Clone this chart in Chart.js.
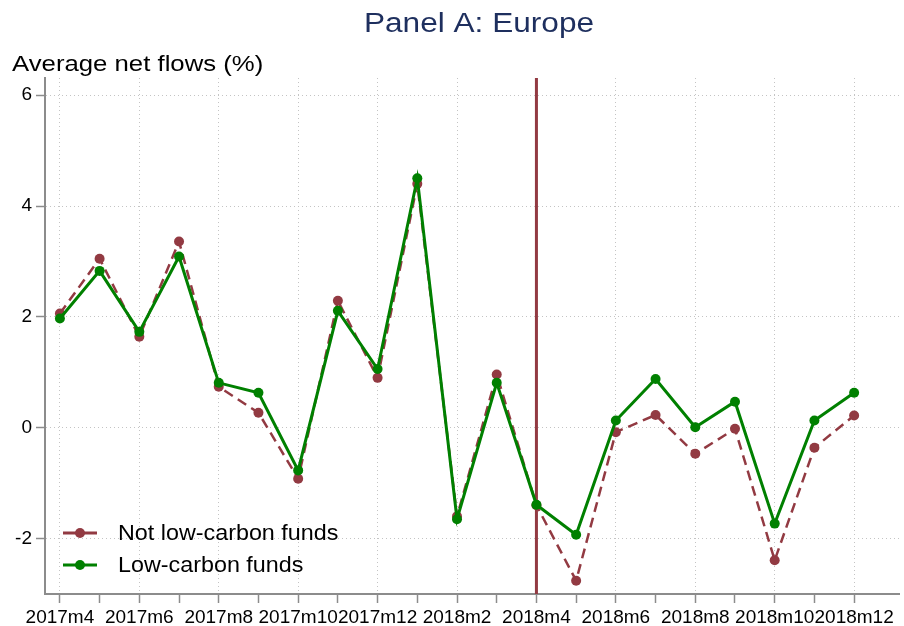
<!DOCTYPE html>
<html>
<head>
<meta charset="utf-8">
<script src="https://cdn.jsdelivr.net/npm/chart.js@4.4.1/dist/chart.umd.min.js"></script>
<style>
    body { margin: 0; background: #fff; }
    #wrap { width: 904px; height: 626px; }
</style>
</head>
<body>
<div id="wrap"><canvas id="flows" width="904" height="626"></canvas></div>
<script>
// ===== DATA =====
var months = ['2017m4', '2017m5', '2017m6', '2017m7', '2017m8', '2017m9', '2017m10', '2017m11', '2017m12',
    '2018m1', '2018m2', '2018m3', '2018m4', '2018m5', '2018m6', '2018m7', '2018m8', '2018m9', '2018m10',
    '2018m11', '2018m12'];
var notLowCarbon = [2.06, 3.05, 1.64, 3.36, 0.74, 0.27, -0.92, 2.29, 0.90, 4.40, -1.60, 0.96, -1.40,
    -2.76, -0.08, 0.23, -0.47, -0.02, -2.39, -0.36, 0.22];
var lowCarbon = [1.97, 2.83, 1.73, 3.09, 0.81, 0.63, -0.77, 2.11, 1.06, 4.50, -1.65, 0.81, -1.39,
    -1.93, 0.13, 0.88, 0.01, 0.47, -1.73, 0.13, 0.63];
var yTicks = [-2, 0, 2, 4, 6];
var eventMonth = '2018m4';

var RED = '#923a42';
var GREEN = '#008000';
var AXIS = '#8c8c8c';
var FONT = 'Arial, "Liberation Sans", sans-serif';

function toPoints(arr) {
    return arr.map(function(v, i) { return { x: i, y: v }; });
}

// draw text stretched horizontally (Stata export looks wide)
function stretchText(ctx, text, x, y, sx) {
    ctx.save();
    ctx.translate(x, y);
    ctx.scale(sx, 1);
    ctx.fillText(text, 0, 0);
    ctx.restore();
}

// ===== TITLES + LEGEND =====
var textPlugin = {
    id: 'texts',
    afterDraw: function(chart) {
        var ctx = chart.ctx;
        ctx.save();
        ctx.textBaseline = 'alphabetic';

        ctx.fillStyle = '#1e2f5e';
        ctx.font = '27px ' + FONT;
        ctx.textAlign = 'center';
        stretchText(ctx, 'Panel A: Europe', 479, 32, 1.17);

        ctx.fillStyle = '#000';
        ctx.font = '22px ' + FONT;
        ctx.textAlign = 'left';
        stretchText(ctx, 'Average net flows (%)', 12, 71, 1.17);

        // legend, inside plot bottom-left
        var rows = [chart.data.datasets[1], chart.data.datasets[0]];
        rows.forEach(function(ds, k) {
            var cy = 533 + k * 32;
            ctx.strokeStyle = ds.borderColor;
            ctx.lineWidth = 3;
            ctx.setLineDash([]);
            ctx.beginPath();
            ctx.moveTo(63, cy);
            ctx.lineTo(97, cy);
            ctx.stroke();
            ctx.fillStyle = ds.borderColor;
            ctx.beginPath();
            ctx.arc(80, cy, 5, 0, Math.PI * 2);
            ctx.fill();
            ctx.fillStyle = '#000';
            ctx.font = '22px ' + FONT;
            stretchText(ctx, ds.label, 118, cy + 7, 1.06);
        });
        ctx.restore();
    }
};

// ===== CHART =====
var eventIdx = months.indexOf(eventMonth);

new Chart(document.getElementById('flows'), {
    type: 'line',
    data: {
        datasets: [{
            label: 'Low-carbon funds',
            data: toPoints(lowCarbon),
            borderColor: GREEN,
            backgroundColor: GREEN,
            borderWidth: 3,
            pointRadius: 5,
            pointBorderWidth: 0,
            tension: 0,
            order: 0
        }, {
            label: 'Not low-carbon funds',
            data: toPoints(notLowCarbon),
            borderColor: RED,
            backgroundColor: RED,
            borderWidth: 2.5,
            borderDash: [10, 6],
            pointRadius: 5,
            pointBorderWidth: 0,
            tension: 0,
            order: 1
        }, {
            label: 'event',
            data: [{ x: eventIdx, y: -3 }, { x: eventIdx, y: 6.31 }],
            borderColor: RED,
            borderWidth: 3,
            pointRadius: 0,
            order: 2
        }]
    },
    options: {
        responsive: false,
        animation: false,
        layout: { padding: { top: 78, right: 1, left: 0, bottom: 0 } },
        plugins: {
            legend: { display: false },
            title: { display: false },
            tooltip: { enabled: false }
        },
        scales: {
            x: {
                type: 'linear',
                min: -0.375,
                max: 21.13,
                afterBuildTicks: function(axis) {
                    axis.ticks = months.map(function(m, i) { return { value: i }; });
                },
                afterFit: function(axis) { axis.height = 32; },
                ticks: {
                    autoSkip: false,
                    maxRotation: 0,
                    minRotation: 0,
                    padding: 3,
                    color: '#000',
                    font: { family: FONT, size: 19 },
                    callback: function(v) { return v % 2 === 0 ? months[v] : ''; }
                },
                grid: {
                    color: function(c) {
                        return c.index % 2 === 0 ? '#c4c4c4' : 'rgba(0,0,0,0)';
                    },
                    lineWidth: 1,
                    tickColor: AXIS,
                    tickLength: 9,
                    tickWidth: 1.5
                },
                border: { color: AXIS, width: 2, dash: [1, 3] }
            },
            y: {
                min: -3,
                max: 6.31,
                afterBuildTicks: function(axis) {
                    axis.ticks = yTicks.map(function(v) { return { value: v }; });
                },
                afterFit: function(axis) { axis.width = 45; },
                ticks: {
                    padding: 4,
                    color: '#000',
                    font: { family: FONT, size: 19 }
                },
                grid: {
                    color: '#c4c4c4',
                    lineWidth: 1,
                    tickColor: AXIS,
                    tickLength: 9,
                    tickWidth: 1.5
                },
                border: { color: AXIS, width: 2, dash: [1, 3] }
            }
        }
    },
    plugins: [textPlugin]
});
</script>
</body>
</html>
